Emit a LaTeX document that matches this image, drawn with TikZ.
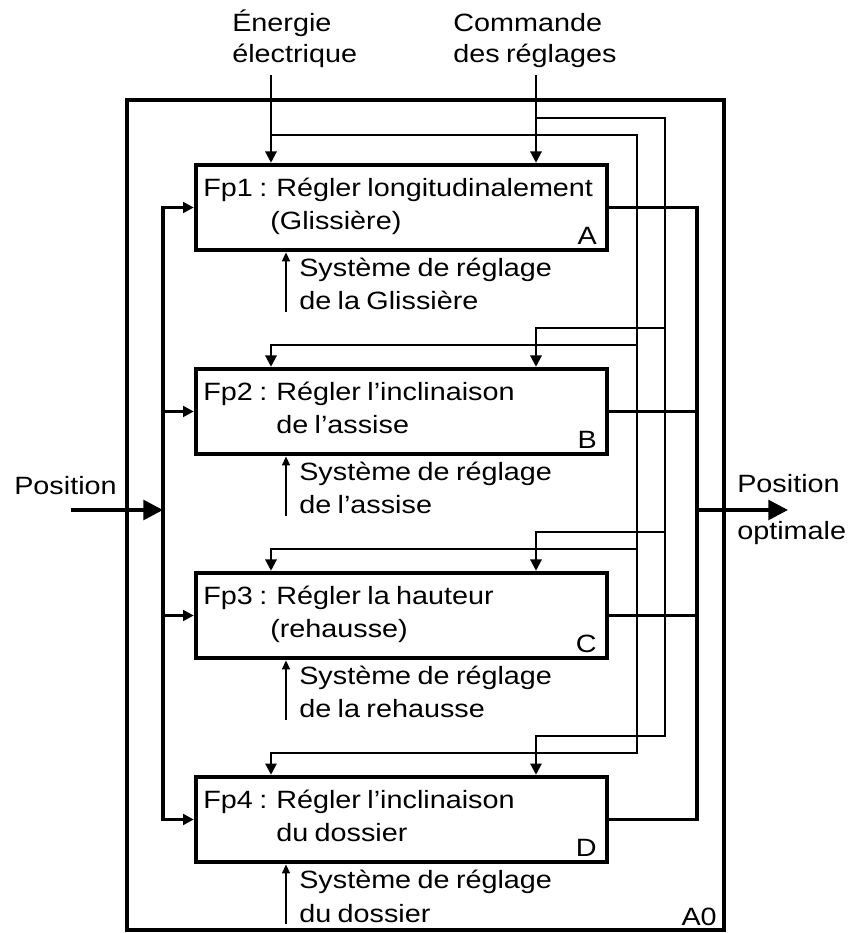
\documentclass[tikz,border=0pt]{standalone}
\usepackage{fontspec}
\setmainfont{Liberation Sans}[FakeStretch=1.15, WordSpace=0.8]
\usepackage{tikz}
\usetikzlibrary{arrows.meta, positioning, calc}

\begin{document}
\begin{tikzpicture}[
  a0frame/.style  = {draw, line width=2.5pt, minimum width=14.925cm,
                     minimum height=20.75cm, inner sep=0pt},
  fnbox/.style    = {draw, line width=3.2pt, minimum width=10.275cm,
                     minimum height=2.125cm, inner sep=0pt},
  lbl/.style      = {anchor=base west, inner sep=0pt,
                     font=\fontsize{17.8pt}{21pt}\selectfont},
  tag/.style      = {lbl, anchor=base east},
  ctrl/.style     = {line width=1.5pt, -{Triangle[length=8pt, width=8pt]}},
  mecarrow/.style = {line width=1.5pt, -{Triangle[length=6.5pt, width=5.5pt]}},
  flow/.style     = {line width=2.6pt},
  flowin/.style   = {flow, -{Triangle[length=7.5pt, width=7.5pt]}},
  bigarrow/.style = {flow, -{Triangle[length=14pt, width=14pt]}},
]
\useasboundingbox (0,0) rectangle (21.2,23.325);

%% ── A0 frame and top inputs ────────────────────────────────────────────────
\node[a0frame] (a0) at (10.6375,10.45) {};
\node[tag] (a0tag) at (17.925,0.2) {A0};

\node[lbl] (energie1) at (5.8,22.525) {Énergie};
\node[lbl] (energie2) at (5.8,21.75) {électrique};
\node[lbl] (commande1) at (11.325,22.525) {Commande};
\node[lbl] (commande2) at (11.325,21.75) {des réglages};

\coordinate (enTop) at (6.775,21.45);
\coordinate (cmTop) at (13.4,21.45);

%% ── Fp1 ─────────────────────────────────────────────────────────────────────
\node[fnbox] (fa) at (10.0375,18.1375) {};
\node[lbl] (fa1) at (5.075,18.4) {Fp1 : Régler longitudinalement};
\node[lbl] (fa2) at (6.75,17.575) {(Glissière)};
\node[tag] (faTag) at (14.925,17.2) {A};
\node[lbl] (ma1) at (7.475,16.4) {Système de réglage};
\node[lbl] (ma2) at (7.475,15.575) {de la Glissière};
\coordinate (maS) at (7.15,15.525);

%% ── Fp2 ─────────────────────────────────────────────────────────────────────
\node[fnbox] (fb) at (10.0375,13.0375) {};
\node[lbl] (fb1) at (5.075,13.3) {Fp2 : Régler l’inclinaison};
\node[lbl] (fb2) at (6.9,12.475) {de l’assise};
\node[tag] (fbTag) at (14.925,12.1) {B};
\node[lbl] (mb1) at (7.475,11.3) {Système de réglage};
\node[lbl] (mb2) at (7.475,10.475) {de l’assise};
\coordinate (mbS) at (7.15,10.425);

%% ── Fp3 ─────────────────────────────────────────────────────────────────────
\node[fnbox] (fc) at (10.0375,7.9375) {};
\node[lbl] (fc1) at (5.075,8.2) {Fp3 : Régler la hauteur};
\node[lbl] (fc2) at (6.75,7.375) {(rehausse)};
\node[tag] (fcTag) at (14.925,7.0) {C};
\node[lbl] (mc1) at (7.475,6.2) {Système de réglage};
\node[lbl] (mc2) at (7.475,5.375) {de la rehausse};
\coordinate (mcS) at (7.15,5.325);

%% ── Fp4 ─────────────────────────────────────────────────────────────────────
\node[fnbox] (fd) at (10.0375,2.8375) {};
\node[lbl] (fd1) at (5.075,3.1) {Fp4 : Régler l’inclinaison};
\node[lbl] (fd2) at (6.9,2.275) {du dossier};
\node[tag] (fdTag) at (14.925,1.9) {D};
\node[lbl] (md1) at (7.475,1.1) {Système de réglage};
\node[lbl] (md2) at (7.475,0.275) {du dossier};
\coordinate (mdS) at (7.15,0.225);

%% ── mechanisms ──────────────────────────────────────────────────────────────
\draw[mecarrow] (maS) -- (maS |- fa.south);
\draw[mecarrow] (mbS) -- (mbS |- fb.south);
\draw[mecarrow] (mcS) -- (mcS |- fc.south);
\draw[mecarrow] (mdS) -- (mdS |- fd.south);

%% ── energy bus ──────────────────────────────────────────────────────────────
\coordinate (enA) at (15.925,19.95);
\coordinate (enB) at (15.925,14.7);
\coordinate (enC) at (15.925,9.6);
\coordinate (enD) at (15.925,4.5);
\draw[ctrl] (enTop) -- (enTop |- fa.north);
\draw[ctrl] (enTop |- enA) -- (enA) -- (enD) -| (enTop |- fd.north);
\draw[ctrl] (enB) -| (enTop |- fb.north);
\draw[ctrl] (enC) -| (enTop |- fc.north);

%% ── command bus ─────────────────────────────────────────────────────────────
\coordinate (cmA) at (16.625,20.375);
\coordinate (cmB) at (16.625,15.125);
\coordinate (cmC) at (16.625,10.025);
\coordinate (cmD) at (16.625,4.925);
\draw[ctrl] (cmTop) -- (cmTop |- fa.north);
\draw[ctrl] (cmTop |- cmA) -- (cmA) -- (cmD) -| (cmTop |- fd.north);
\draw[ctrl] (cmB) -| (cmTop |- fb.north);
\draw[ctrl] (cmC) -| (cmTop |- fc.north);

%% ── input: Position ─────────────────────────────────────────────────────────
\node[lbl] (posIn) at (0.35,10.95) {Position};
\coordinate (inL) at (1.775,10.575);
\coordinate (inBus) at (4.075,10.575);
\draw[bigarrow] (inL) -- (inBus);
\draw[flow, {Triangle[length=7.5pt, width=7.5pt]}-{Triangle[length=7.5pt, width=7.5pt]}]
  (fa.west) -| (inBus) |- (fd.west);
\draw[flowin] (inBus |- fb.west) -- (fb.west);
\draw[flowin] (inBus |- fc.west) -- (fc.west);

%% ── output: Position optimale ───────────────────────────────────────────────
\node[lbl] (posOut1) at (18.425,11.0) {Position};
\node[lbl] (posOut2) at (18.425,9.825) {optimale};
\coordinate (outBus) at (17.425,10.575);
\coordinate (outR) at (19.7,10.575);
\draw[flow] (fa.east) -| (outBus) |- (fd.east);
\draw[flow] (fb.east) -- (fb.east -| outBus);
\draw[flow] (fc.east) -- (fc.east -| outBus);
\draw[bigarrow] (outBus) -- (outR);

\end{tikzpicture}
\end{document}
